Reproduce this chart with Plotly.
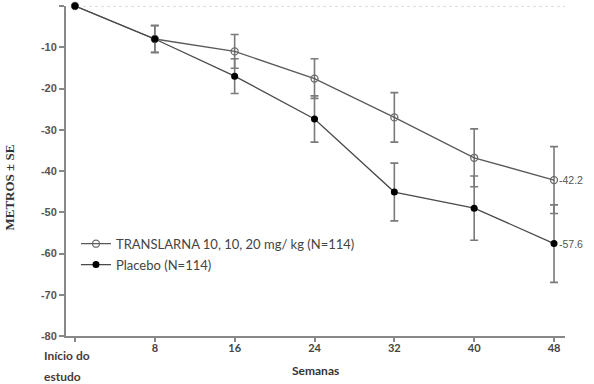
import plotly.graph_objects as go

weeks = [0, 8, 16, 24, 32, 40, 48]
translarna = [0, -8.0, -11.0, -17.6, -27.0, -36.8, -42.2]
translarna_se = [0, 3.2, 4.1, 4.8, 6.0, 7.0, 8.1]
placebo = [0, -8.0, -17.0, -27.4, -45.1, -49.0, -57.6]
placebo_se = [0, 3.3, 4.2, 5.6, 7.0, 7.8, 9.4]
end_labels = ["-42.2", "-57.6"]
tick_vals = [0, 8, 16, 24, 32, 40, 48]
tick_text = ["", "8", "16", "24", "32", "40", "48"]
y_ticks = [0, -10, -20, -30, -40, -50, -60, -70, -80]
y_tick_text = ["0", "-10", "-20", "-30", "-40", "-50", "-60", "-70", "-80"]

fig = go.Figure()
fig.add_trace(go.Scatter(
    x=weeks, y=translarna, mode="lines+markers",
    name="TRANSLARNA 10, 10, 20 mg/ kg (N=114)", legendgroup="a",
    line=dict(color="#5a5a5a", width=1.3),
    marker=dict(symbol="circle-open", size=7, color="#6a6a6a", line=dict(width=1.3)),
    error_y=dict(type="data", array=translarna_se, color="#7a7a7a", thickness=1.6, width=4),
    cliponaxis=False,
))
fig.add_trace(go.Scatter(
    x=weeks, y=placebo, mode="lines+markers",
    name="Placebo (N=114)", legendgroup="b",
    line=dict(color="#4a4a4a", width=1.3),
    marker=dict(symbol="circle", size=7, color="#000000"),
    error_y=dict(type="data", array=placebo_se, color="#7a7a7a", thickness=1.6, width=4),
    cliponaxis=False,
))

fig.add_shape(type="line", xref="x", yref="y", x0=0.8, x1=49.1, y0=0, y1=0,
              line=dict(color="#bbbbbb", width=1, dash="dot"), layer="below")

for lbl, yy in [(end_labels[0], translarna[-1]), (end_labels[1], placebo[-1])]:
    fig.add_annotation(x=48, y=yy, xref="x", yref="y", text=lbl,
                       showarrow=False, xanchor="left", xshift=3,
                       font=dict(family="Liberation Sans", size=10.5, color="#555555"))

fig.add_annotation(x=0, y=0, xref="paper", yref="paper", text="Início do",
                   showarrow=False, xanchor="left", yanchor="middle", align="left",
                   xshift=-24, yshift=-19,
                   font=dict(family="Lato", size=12, color="#4a3a3a", weight="bold"))
fig.add_annotation(x=0, y=0, xref="paper", yref="paper", text="estudo",
                   showarrow=False, xanchor="left", yanchor="middle", align="left",
                   xshift=-24, yshift=-40,
                   font=dict(family="Lato", size=12, color="#4a3a3a", weight="bold"))
fig.add_annotation(x=0.5, y=0, xref="paper", yref="paper", text="Semanas",
                   showarrow=False, xanchor="center", yanchor="middle", yshift=-34,
                   font=dict(family="Lato", size=12, color="#333333", weight="bold"))
fig.add_annotation(x=0, y=0.45, xref="paper", yref="paper", text="METROS ± SE",
                   showarrow=False, textangle=-90, xanchor="center", yanchor="middle",
                   xshift=-57,
                   font=dict(family="Liberation Serif", size=13, color="#333333", weight="bold"))

fig.update_layout(
    width=594, height=384,
    margin=dict(l=66, r=29, t=6, b=48),
    paper_bgcolor="white", plot_bgcolor="white",
    showlegend=True,
    legend=dict(x=0.02, y=0.325, xanchor="left", yanchor="top",
                font=dict(family="Lato", size=13, color="#444444"),
                bgcolor="rgba(0,0,0,0)", tracegroupgap=1, itemwidth=30),
    xaxis=dict(range=[-0.9, 49.1], tickvals=tick_vals, ticktext=tick_text, automargin=False,
               showgrid=False, zeroline=False, showline=True, linecolor="#888888", linewidth=2,
               ticks="outside", ticklen=4, tickcolor="#888888", tickwidth=1.5,
               ticklabelstandoff=-3,
               tickfont=dict(family="Lato", size=11, color="#444444", weight="bold")),
    yaxis=dict(range=[-80, 0], tickvals=y_ticks, ticktext=y_tick_text, automargin=False,
               showgrid=False, zeroline=False, showline=True, linecolor="#888888", linewidth=2,
               ticks="outside", ticklen=5, tickcolor="#888888", tickwidth=1.5,
               tickfont=dict(family="Liberation Sans", size=11, color="#555555", weight="bold")),
)

fig.write_html("out.html", config={"displayModeBar": False},
               post_script="document.body.style.margin='0';document.body.style.overflow='hidden';")
